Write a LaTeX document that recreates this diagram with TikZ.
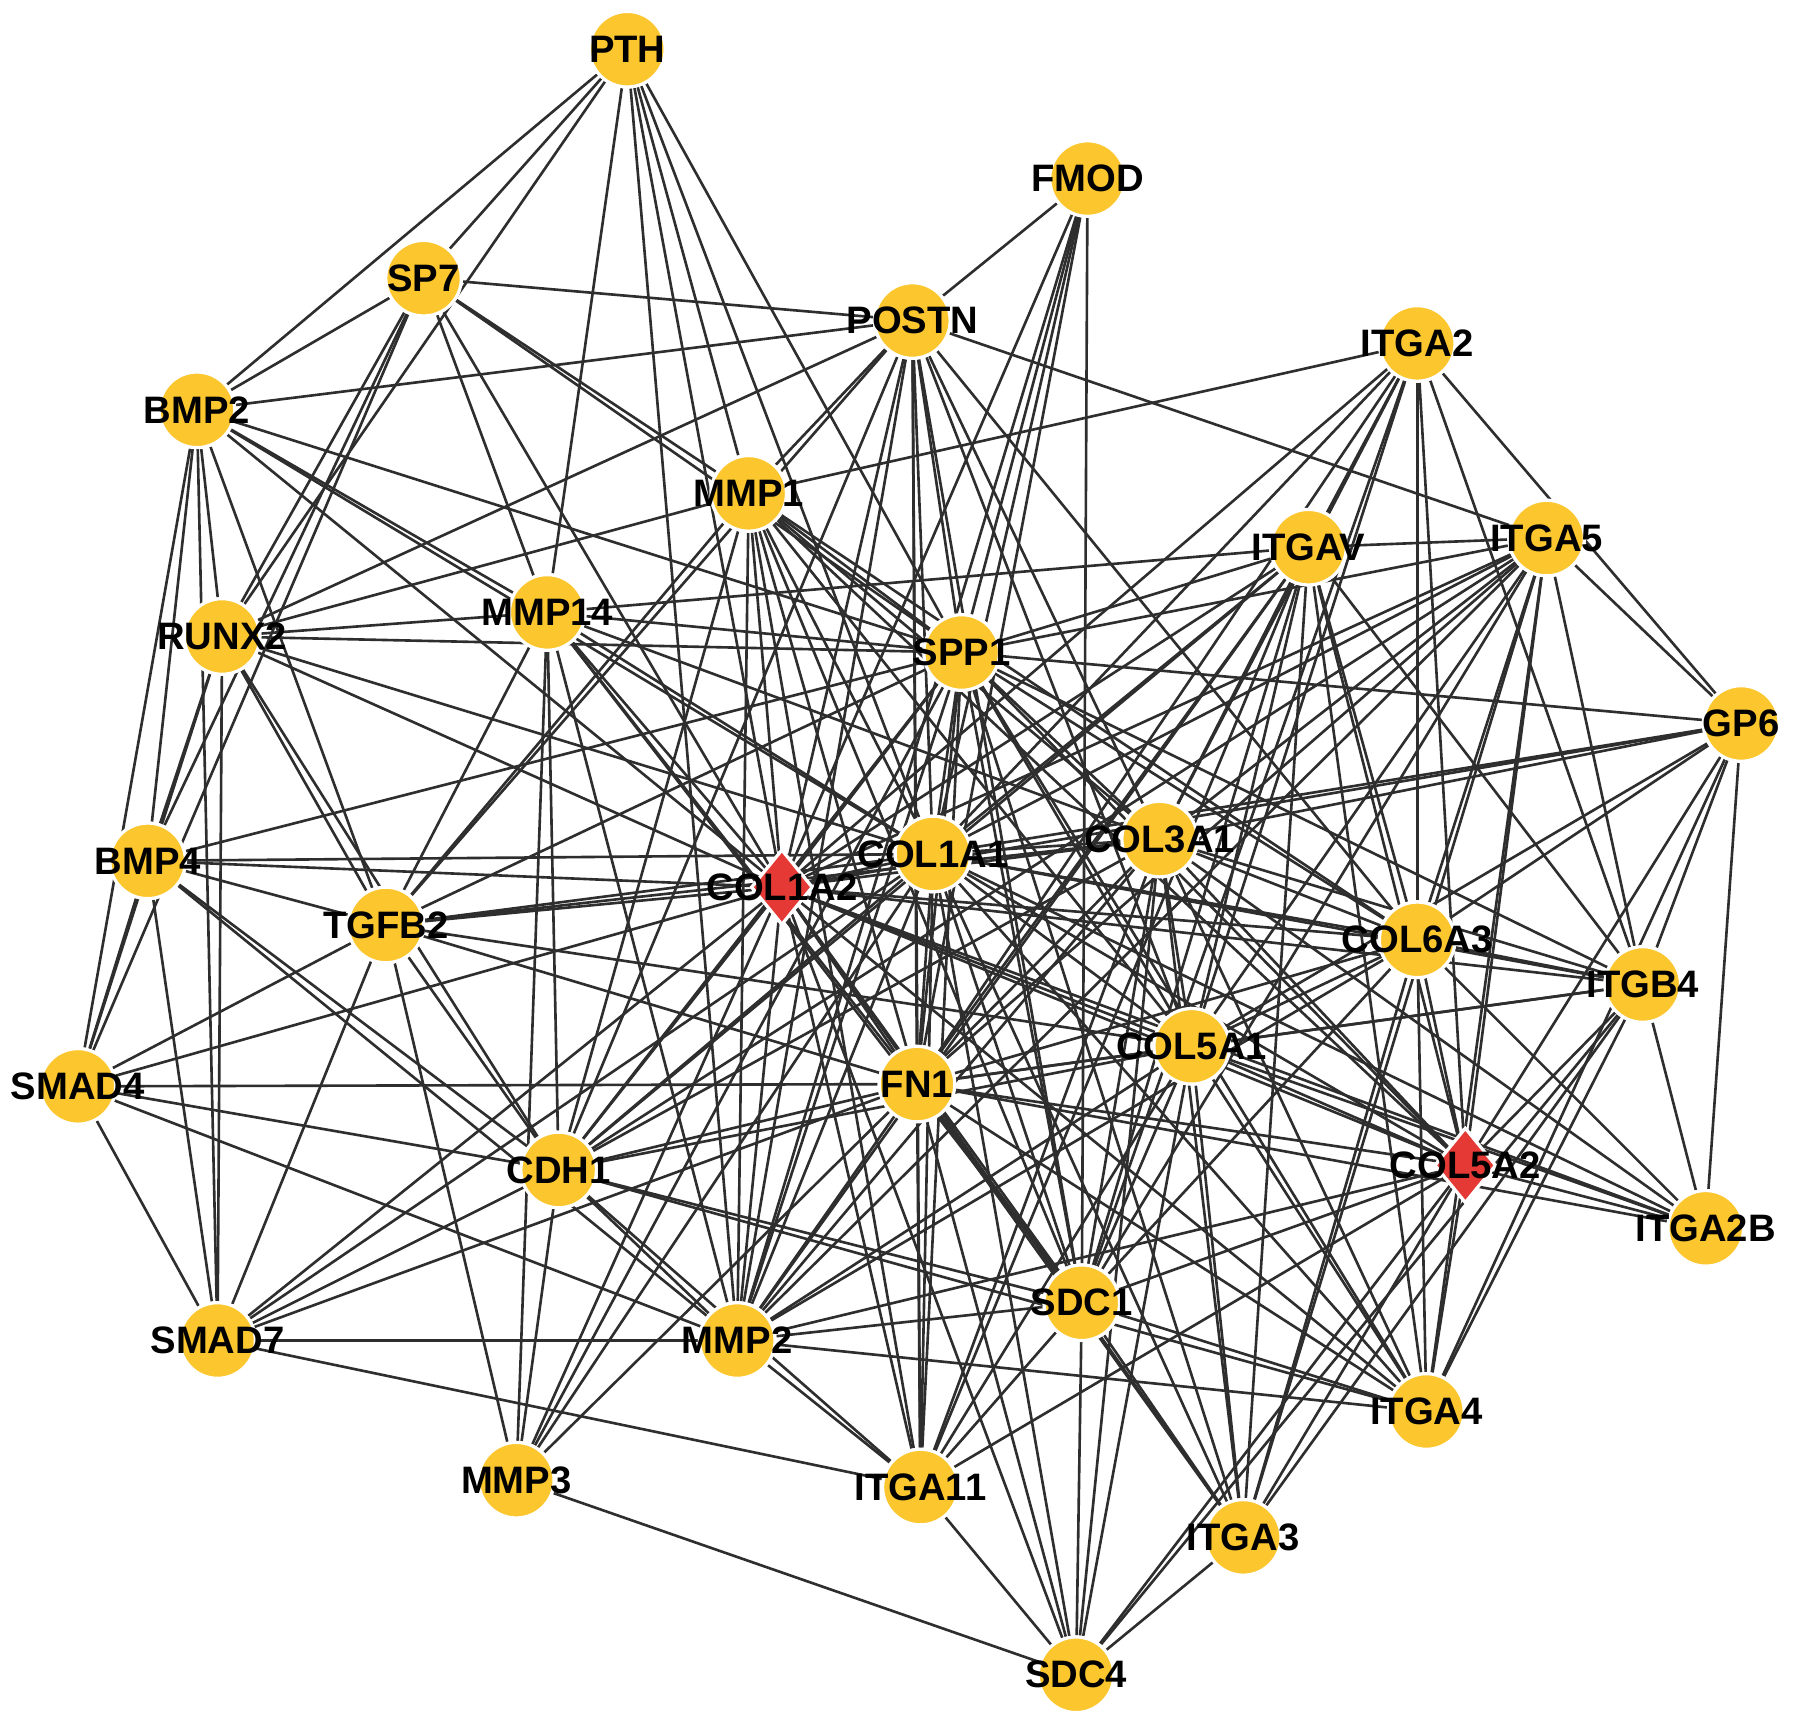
\documentclass[tikz,border=0pt]{standalone}
\usepackage{fontspec}
\setmainfont{Liberation Sans}
\usetikzlibrary{shapes.geometric,backgrounds}
\definecolor{genecol}{HTML}{FCC72E}
\definecolor{hubcol}{HTML}{E53935}
\definecolor{edgecol}{HTML}{2E2E2E}
\tikzset{
 gnode/.style={circle, fill=genecol, draw=white, line width=0.8pt, minimum size=0.66cm, inner sep=0pt},
 hnode/.style={diamond, fill=hubcol, draw=white, line width=0.8pt, minimum width=0.54cm, minimum height=0.66cm, inner sep=0pt},
 lab/.style={font=\fontsize{9.5}{10}\selectfont\bfseries, text=black, inner sep=0pt},
 link/.style={draw=edgecol, line width=0.65pt}
}
\begin{document}
\begin{tikzpicture}[x=0.01cm,y=-0.01cm]
\useasboundingbox (0,0) rectangle (1568,1510);
\node[gnode, label={[lab]center:PTH}] (PTH) at (548,43) {};
\node[gnode, label={[lab]center:FMOD}] (FMOD) at (950,156) {};
\node[gnode, label={[lab]center:SP7}] (SP7) at (370,243) {};
\node[gnode, label={[lab]center:POSTN}] (POSTN) at (797,280) {};
\node[gnode, label={[lab]center:ITGA2}] (ITGA2) at (1238,300) {};
\node[gnode, label={[lab]center:BMP2}] (BMP2) at (172,358) {};
\node[gnode, label={[lab]center:MMP1}] (MMP1) at (654,431) {};
\node[gnode, label={[lab]center:ITGAV}] (ITGAV) at (1143,478) {};
\node[gnode, label={[lab]center:ITGA5}] (ITGA5) at (1351,470) {};
\node[gnode, label={[lab]center:RUNX2}] (RUNX2) at (194,556) {};
\node[gnode, label={[lab]center:MMP14}] (MMP14) at (478,535) {};
\node[gnode, label={[lab]center:SPP1}] (SPP1) at (840,570) {};
\node[gnode, label={[lab]center:GP6}] (GP6) at (1521,632) {};
\node[gnode, label={[lab]center:BMP4}] (BMP4) at (129,752) {};
\node[hnode, label={[lab]center:COL1A2}] (C1A2) at (683,775) {};
\node[gnode, label={[lab]center:COL1A1}] (C1A1) at (815,746) {};
\node[gnode, label={[lab]center:COL3A1}] (C3A1) at (1013,733) {};
\node[gnode, label={[lab]center:TGFB2}] (TGFB2) at (337,808) {};
\node[gnode, label={[lab]center:COL6A3}] (C6A3) at (1238,821) {};
\node[gnode, label={[lab]center:ITGB4}] (ITGB4) at (1435,860) {};
\node[gnode, label={[lab]center:SMAD4}] (SMAD4) at (68,949) {};
\node[gnode, label={[lab]center:FN1}] (FN1) at (801,947) {};
\node[gnode, label={[lab]center:COL5A1}] (C5A1) at (1041,914) {};
\node[gnode, label={[lab]center:CDH1}] (CDH1) at (488,1022) {};
\node[hnode, label={[lab]center:COL5A2}] (C5A2) at (1280,1018) {};
\node[gnode, label={[lab]center:ITGA2B}] (ITGA2B) at (1490,1073) {};
\node[gnode, label={[lab]center:SDC1}] (SDC1) at (945,1138) {};
\node[gnode, label={[lab]center:SMAD7}] (SMAD7) at (190,1171) {};
\node[gnode, label={[lab]center:MMP2}] (MMP2) at (644,1171) {};
\node[gnode, label={[lab]center:ITGA4}] (ITGA4) at (1246,1233) {};
\node[gnode, label={[lab]center:MMP3}] (MMP3) at (451,1293) {};
\node[gnode, label={[lab]center:ITGA11}] (ITGA11) at (804,1299) {};
\node[gnode, label={[lab]center:ITGA3}] (ITGA3) at (1086,1343) {};
\node[gnode, label={[lab]center:SDC4}] (SDC4) at (940,1463) {};
\begin{scope}[on background layer]
\fill[white] (0,0) rectangle (1568,1510);
\foreach \a/\b in {
PTH/SP7, PTH/BMP2, PTH/RUNX2, PTH/MMP14, PTH/MMP1, PTH/C1A2, PTH/SPP1, PTH/C1A1, PTH/MMP2,
SP7/BMP2, SP7/POSTN, SP7/RUNX2, SP7/BMP4, SP7/SMAD4, SP7/MMP14, SP7/MMP1, SP7/SPP1, SP7/C1A2,
FMOD/POSTN, FMOD/SPP1, FMOD/C1A1, FMOD/C1A2, FMOD/FN1, FMOD/MMP2, FMOD/SDC1,
POSTN/BMP2, POSTN/RUNX2, POSTN/MMP1, POSTN/SPP1, POSTN/C1A2, POSTN/C1A1, POSTN/FN1, POSTN/C3A1, POSTN/C5A1, POSTN/C6A3, POSTN/ITGA5, POSTN/TGFB2, POSTN/CDH1, POSTN/MMP2, POSTN/ITGA11, POSTN/SDC1,
ITGA2/MMP1, ITGA2/C1A2, ITGA2/C1A1, ITGA2/FN1, ITGA2/C3A1, ITGA2/SDC1, ITGA2/C5A1, ITGA2/C6A3, ITGA2/C5A2, ITGA2/ITGB4, ITGA2/GP6, ITGA2/ITGAV,
BMP2/RUNX2, BMP2/BMP4, BMP2/SMAD4, BMP2/SMAD7, BMP2/TGFB2, BMP2/MMP14, BMP2/C1A2, BMP2/SPP1, BMP2/C1A1,
RUNX2/MMP14, RUNX2/BMP4, RUNX2/SMAD4, RUNX2/SMAD7, RUNX2/TGFB2, RUNX2/CDH1, RUNX2/C1A2, RUNX2/C1A1, RUNX2/MMP1, RUNX2/SPP1,
MMP14/ITGAV, MMP14/SPP1, MMP14/C1A2, MMP14/C1A1, MMP14/FN1, MMP14/SDC1, MMP14/CDH1, MMP14/MMP2, MMP14/TGFB2, MMP14/C3A1, MMP14/MMP3,
MMP1/SPP1, MMP1/C1A2, MMP1/C1A1, MMP1/FN1, MMP1/C3A1, MMP1/C5A1, MMP1/C6A3, MMP1/C5A2, MMP1/CDH1, MMP1/MMP2, MMP1/TGFB2, MMP1/SDC1, MMP1/ITGA11,
SPP1/C1A2, SPP1/C1A1, SPP1/C3A1, SPP1/FN1, SPP1/C5A1, SPP1/C6A3, SPP1/C5A2, SPP1/ITGAV, SPP1/ITGA5, SPP1/GP6, SPP1/ITGB4, SPP1/ITGA4, SPP1/SDC1, SPP1/MMP2, SPP1/CDH1, SPP1/TGFB2, SPP1/BMP4, SPP1/ITGA11, SPP1/ITGA3, SPP1/MMP3,
ITGAV/ITGA5, ITGAV/C1A2, ITGAV/C1A1, ITGAV/FN1, ITGAV/C3A1, ITGAV/C5A1, ITGAV/CDH1, ITGAV/MMP2, ITGAV/ITGA11, ITGAV/SDC1, ITGAV/ITGA3, ITGAV/C5A2, ITGAV/C6A3, ITGAV/ITGB4, ITGAV/ITGA4,
ITGA5/GP6, ITGA5/C1A2, ITGA5/C1A1, ITGA5/C3A1, ITGA5/FN1, ITGA5/C5A1, ITGA5/C6A3, ITGA5/C5A2, ITGA5/ITGB4, ITGA5/SDC1, ITGA5/ITGA4, ITGA5/ITGA3, ITGA5/CDH1, ITGA5/MMP2,
GP6/C3A1, GP6/C1A1, GP6/C6A3, GP6/C5A2, GP6/ITGB4, GP6/ITGA2B, GP6/ITGA4, GP6/C1A2, GP6/C5A1,
ITGB4/C6A3, ITGB4/C5A1, ITGB4/C5A2, ITGB4/ITGA2B, ITGB4/ITGA4, ITGB4/ITGA3, ITGB4/FN1, ITGB4/C3A1, ITGB4/C1A1, ITGB4/SDC4,
ITGA2B/C5A2, ITGA2B/C6A3, ITGA2B/C5A1, ITGA2B/C1A1, ITGA2B/FN1, ITGA2B/C3A1, ITGA2B/C1A2,
C5A2/C1A1, C5A2/C1A2, C5A2/C3A1, C5A2/C5A1, C5A2/C6A3, C5A2/FN1, C5A2/ITGA4, C5A2/ITGA3, C5A2/SDC1, C5A2/SDC4, C5A2/ITGA11, C5A2/MMP2,
C6A3/C1A1, C6A3/C1A2, C6A3/C3A1, C6A3/C5A1, C6A3/FN1, C6A3/ITGA4, C6A3/SDC1, C6A3/ITGA3, C6A3/MMP2,
C3A1/C1A1, C3A1/C1A2, C3A1/FN1, C3A1/C5A1, C3A1/MMP2, C3A1/SDC1, C3A1/ITGA11, C3A1/ITGA3, C3A1/ITGA4, C3A1/SDC4, C3A1/TGFB2, C3A1/CDH1,
C1A1/C1A2, C1A1/FN1, C1A1/C5A1, C1A1/BMP4, C1A1/TGFB2, C1A1/CDH1, C1A1/MMP2, C1A1/MMP3, C1A1/ITGA11, C1A1/SDC1, C1A1/SDC4, C1A1/ITGA3, C1A1/ITGA4, C1A1/SMAD7,
C1A2/FN1, C1A2/TGFB2, C1A2/BMP4, C1A2/SMAD4, C1A2/SMAD7, C1A2/CDH1, C1A2/MMP2, C1A2/MMP3, C1A2/ITGA11, C1A2/SDC1, C1A2/SDC4, C1A2/ITGA3, C1A2/ITGA4, C1A2/C5A1, C1A2/ITGB4,
FN1/SMAD4, FN1/TGFB2, FN1/CDH1, FN1/MMP2, FN1/MMP3, FN1/ITGA11, FN1/SDC1, FN1/SDC4, FN1/ITGA3, FN1/ITGA4, FN1/C5A1, FN1/SMAD7,
C5A1/TGFB2, C5A1/CDH1, C5A1/MMP2, C5A1/ITGA11, C5A1/SDC1, C5A1/SDC4, C5A1/ITGA3, C5A1/ITGA4,
CDH1/SMAD4, CDH1/TGFB2, CDH1/SMAD7, CDH1/MMP2, CDH1/MMP3, CDH1/ITGA11, CDH1/SDC1, CDH1/BMP4, CDH1/ITGA4,
SMAD4/BMP4, SMAD4/TGFB2, SMAD4/SMAD7, SMAD4/MMP2,
SMAD7/BMP4, SMAD7/TGFB2, SMAD7/MMP2, SMAD7/ITGA11,
BMP4/TGFB2, BMP4/MMP2,
TGFB2/MMP3,
MMP2/ITGA11, MMP2/SDC1, MMP2/ITGA4,
MMP3/SDC4,
ITGA11/SDC4, ITGA11/SDC1,
ITGA3/SDC4, ITGA3/SDC1,
ITGA4/SDC1,
SDC1/SDC4}
  \draw[link] (\a) -- (\b);
\end{scope}
\end{tikzpicture}
\end{document}
